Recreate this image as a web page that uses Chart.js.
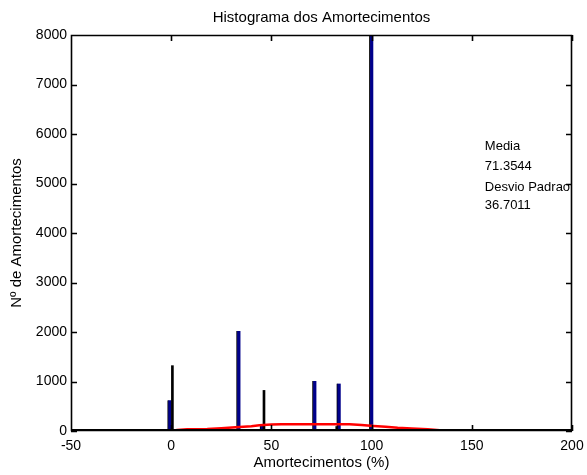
<!DOCTYPE html>
<html><head><meta charset="utf-8">
<script src="https://cdn.jsdelivr.net/npm/chart.js@4.4.0/dist/chart.umd.min.js"></script>
<style>html,body{margin:0;padding:0;background:#fff;}#wrap{width:587px;height:475px;}</style>
</head><body><div id="wrap"><canvas id="c" width="587" height="475"></canvas></div>
<script>
// Data
const chartTitle = "Histograma dos Amortecimentos";
const xTitle = "Amortecimentos (%)";
const yTitle = "Nº de Amortecimentos";
const blueX = [-0.8, 33.6, 45.3, 71.5, 83.6, 99.9];
const blueY = [620, 2020, 100, 1010, 960, 8000];
const blackX = [0.6, 46.3, 82.6];
const blackY = [1320, 820, 90];
const fitX = [-38, -10, 0, 3, 8, 18, 25, 34, 40, 44, 50, 55, 70, 89, 95, 101, 107, 113, 120, 128, 134, 139, 160, 181];
const fitY = [0, 0, 0, 20, 35, 40, 55, 80, 95, 115, 130, 135, 135, 135, 120, 100, 85, 65, 50, 35, 15, 0, 0, 0];
const statLines = ["Media", "71.3544", "Desvio Padrao", "36.7011"];
const statX = 156.5;
const statY = [5740, 5335, 4930, 4550];
const xTicks = [-50, 0, 50, 100, 150, 200];
const yTicks = [0, 1000, 2000, 3000, 4000, 5000, 6000, 7000, 8000];

const FONT = "'Liberation Sans', Arial, sans-serif";
Chart.defaults.font.family = FONT;
Chart.defaults.font.size = 14;
Chart.defaults.color = '#000';

const pts = (xs, ys) => xs.map((x, i) => ({x: x, y: ys[i]}));

const boxPlugin = {
  id: 'box',
  afterDraw(chart) {
    const {ctx, chartArea: a, scales: {x, y}} = chart;
    const L = Math.round(a.left), R = Math.round(a.right);
    const T = Math.round(a.top), B = Math.round(a.bottom);
    ctx.save();
    ctx.setTransform(1, 0, 0, 1, 0, 0);
    ctx.globalAlpha = 1;
    ctx.globalCompositeOperation = 'source-over';
    ctx.strokeStyle = '#000';
    ctx.lineWidth = 1.6;
    ctx.beginPath();
    ctx.rect(L + 0.5, T + 0.5, R - L - 1, B - T - 1);
    xTicks.forEach(v => {
      const px = Math.round(x.getPixelForValue(v)) + 0.5;
      ctx.moveTo(px, B); ctx.lineTo(px, B - 6);
      ctx.moveTo(px, T); ctx.lineTo(px, T + 6);
    });
    yTicks.forEach(v => {
      const py = Math.round(y.getPixelForValue(v)) + 0.5;
      ctx.moveTo(L, py); ctx.lineTo(L + 6, py);
      ctx.moveTo(R, py); ctx.lineTo(R - 6, py);
    });
    ctx.stroke();
    ctx.fillStyle = '#000';
    ctx.fillRect(L, B - 2, R - L, 2);
    // title centred over plot area
    ctx.font = '15px ' + FONT;
    ctx.textAlign = 'center';
    ctx.textBaseline = 'middle';
    ctx.fillText(chartTitle, (a.left + a.right) / 2, 18);
    // stats text
    ctx.font = '13px ' + FONT;
    ctx.textAlign = 'left';
    statLines.forEach((t, i) => ctx.fillText(t, x.getPixelForValue(statX), y.getPixelForValue(statY[i])));
    ctx.restore();
  }
};

new Chart(document.getElementById('c'), {
  type: 'bar',
  data: {
    datasets: [
      {type: 'line', data: pts(fitX, fitY), borderColor: '#ff0000', borderWidth: 2.5, pointRadius: 0, tension: 0, fill: false, order: 0},
      {type: 'bar', data: pts(blueX, blueY), backgroundColor: '#00008B', borderColor: '#000', borderWidth: {left: 1, right: 0, top: 0, bottom: 0}, stack: 'h', barThickness: 4, order: 2},
      {type: 'bar', data: pts(blackX, blackY), backgroundColor: '#000000', borderWidth: 0, stack: 'h', barThickness: 2, order: 1}
    ]
  },
  options: {
    responsive: false,
    animation: false,
    devicePixelRatio: 1,
    layout: {padding: {left: 0, right: 15, top: 35, bottom: 0}},
    plugins: {
      legend: {display: false},
      tooltip: {enabled: false},
      title: {display: false}
    },
    scales: {
      x: {
        type: 'linear', min: -50, max: 200, offset: false,
        afterBuildTicks: s => { s.ticks = xTicks.map(v => ({value: v})); },
        afterFit: s => { s.height = 44; s.paddingLeft = 0; s.paddingRight = 0; },
        ticks: {color: '#000', padding: 6.6, maxRotation: 0, font: {size: 14}, callback: v => String(v)},
        grid: {display: false, drawTicks: false},
        border: {display: false},
        title: {display: true, text: xTitle, color: '#000', font: {size: 15}, padding: {top: 0, bottom: 3}}
      },
      y: {
        type: 'linear', min: 0, max: 8000, stacked: false,
        afterBuildTicks: s => { s.ticks = yTicks.map(v => ({value: v})); },
        afterFit: s => { s.width = 71; s.paddingTop = 0; s.paddingBottom = 0; },
        ticks: {color: '#000', padding: 4, font: {size: 14}, callback: v => String(v)},
        grid: {display: false, drawTicks: false},
        border: {display: false},
        title: {display: true, text: yTitle, color: '#000', font: {size: 15}, padding: {top: 8, bottom: 0}}
      }
    }
  },
  plugins: [boxPlugin]
});
</script></body></html>
